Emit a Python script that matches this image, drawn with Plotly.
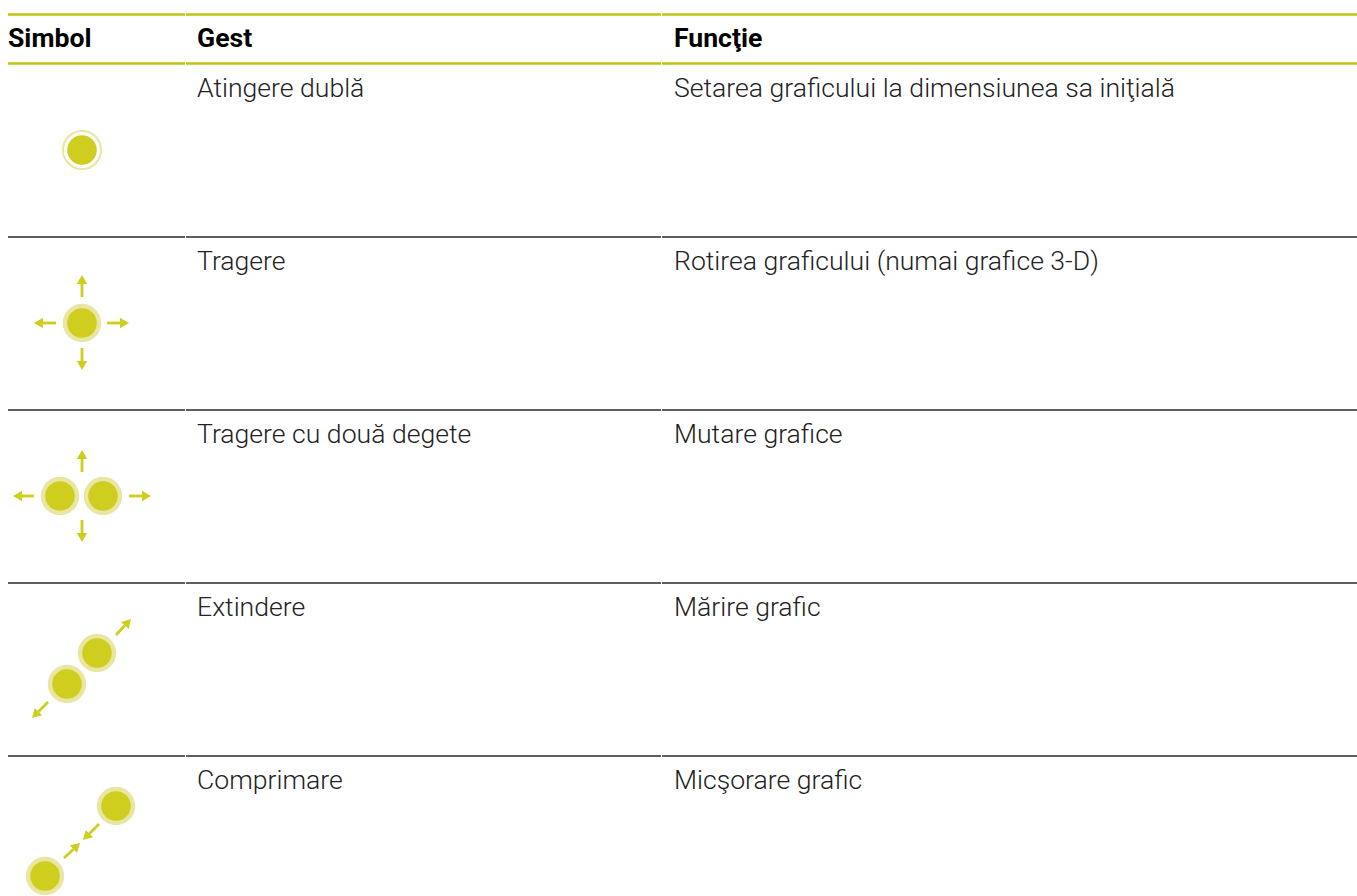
import math
import plotly.graph_objects as go

# Table text
headers = ["Simbol", "Gest", "Funcţie"]
gestures = ["Atingere dublă", "Tragere", "Tragere cu două degete", "Extindere", "Comprimare"]
functions = [
    "Setarea graficului la dimensiunea sa iniţială",
    "Rotirea graficului (numai grafice 3-D)",
    "Mutare grafice",
    "Mărire grafic",
    "Micşorare grafic",
]

# Table geometry (pixel space of the 1357x896 page)
column_x = [8, 197, 674]
column_edges = [(8, 185), (186, 661), (662, 1357)]
header_text_y = 40
header_rule_y = [14.5, 63.5]
row_rule_y = [237, 410, 583, 756]
row_text_y = [90, 263, 436, 609, 782]

# Gesture symbols
double_tap = [(82, 150)]
touch_points = [(82, 323), (60, 496), (103, 496), (97, 653), (67, 684), (116, 806), (45, 876)]
# arrows: (tail x, tail y, tip x, tip y)
arrows = [
    (82, 297, 82, 275), (56, 323, 34, 323), (107, 323, 129, 323), (82, 348, 82, 370),
    (82, 472, 82, 450), (34, 496, 13, 496), (129, 496, 151, 496), (82, 520, 82, 542),
    (116, 635, 131, 619), (48, 702, 32, 718),
    (99, 824, 83, 840), (64, 858, 80, 843),
]

LIME = "#CFCD1E"
PALE = "#E8E6A2"
HEADER_RULE = "#BFC30F"
ROW_RULE = "#2A2A2A"
FONT = "Roboto"
TEXT_SIZE = 26.6


def rule_trace(ys, color, width):
    xs, yy = [], []
    for y in ys:
        for a, b in column_edges:
            xs += [a, b, None]
            yy += [y, y, None]
    return go.Scatter(x=xs, y=yy, mode="lines", line=dict(color=color, width=width), hoverinfo="skip")


fig = go.Figure()
fig.add_trace(rule_trace(header_rule_y, HEADER_RULE, 2.6))
fig.add_trace(rule_trace(row_rule_y, ROW_RULE, 1.5))

# arrow shafts and heads
HEAD_LEN, HEAD_HALF = 9.0, 5.2
sx, sy, hx, hy = [], [], [], []
for x0, y0, x1, y1 in arrows:
    d = math.hypot(x1 - x0, y1 - y0)
    ux, uy = (x1 - x0) / d, (y1 - y0) / d
    bx, by = x1 - ux * HEAD_LEN, y1 - uy * HEAD_LEN
    sx += [x0, bx, None]
    sy += [y0, by, None]
    hx += [x1, bx - uy * HEAD_HALF, bx + uy * HEAD_HALF, x1, None]
    hy += [y1, by + ux * HEAD_HALF, by - ux * HEAD_HALF, y1, None]
fig.add_trace(go.Scatter(x=sx, y=sy, mode="lines", line=dict(color=LIME, width=2.8), hoverinfo="skip"))
fig.add_trace(go.Scatter(x=hx, y=hy, mode="lines", fill="toself", fillcolor=LIME,
                         line=dict(color=LIME, width=0), hoverinfo="skip"))

# circles
fig.add_trace(go.Scatter(
    x=[p[0] for p in double_tap], y=[p[1] for p in double_tap], mode="markers",
    marker=dict(size=38, color="white", line=dict(color=PALE, width=2)), hoverinfo="skip"))
fig.add_trace(go.Scatter(
    x=[p[0] for p in touch_points], y=[p[1] for p in touch_points], mode="markers",
    marker=dict(size=38.5, color=PALE), hoverinfo="skip"))
all_pts = double_tap + touch_points
fig.add_trace(go.Scatter(
    x=[p[0] for p in all_pts], y=[p[1] for p in all_pts], mode="markers",
    marker=dict(size=29.5, color=LIME), hoverinfo="skip"))

# text
fig.add_trace(go.Scatter(
    x=column_x, y=[header_text_y] * 3, text=headers, mode="text", textposition="middle right",
    textfont=dict(family=FONT, size=TEXT_SIZE, color="#000000", weight=700), hoverinfo="skip"))
fig.add_trace(go.Scatter(
    x=[column_x[1]] * 5, y=row_text_y, text=gestures, mode="text", textposition="middle right",
    textfont=dict(family=FONT, size=TEXT_SIZE, color="#222222", weight=300), hoverinfo="skip"))
fig.add_trace(go.Scatter(
    x=[column_x[2]] * 5, y=row_text_y, text=functions, mode="text", textposition="middle right",
    textfont=dict(family=FONT, size=TEXT_SIZE, color="#222222", weight=300), hoverinfo="skip"))

fig.update_layout(
    width=1357, height=896, margin=dict(l=0, r=0, t=0, b=0, autoexpand=False),
    paper_bgcolor="white", plot_bgcolor="white", showlegend=False,
    xaxis=dict(range=[0, 1357], visible=False, fixedrange=True),
    yaxis=dict(range=[896, 0], visible=False, fixedrange=True),
)
fig.write_html("out.html", config={"displayModeBar": False},
               post_script="document.body.style.margin='0';document.documentElement.style.overflow='hidden';")
